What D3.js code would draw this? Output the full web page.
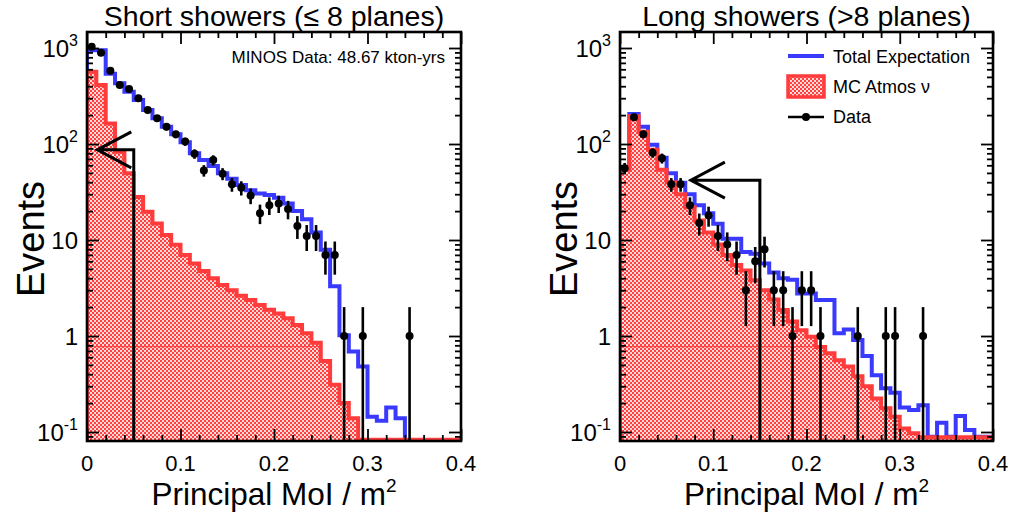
<!DOCTYPE html>
<html>
<head>
<meta charset="utf-8">
<script src="https://cdn.jsdelivr.net/npm/d3@7"></script>
<style>
  body { margin: 0; background: #fff; }
  text { font-family: "Liberation Sans", Arial, Helvetica, sans-serif; fill: #000; }
</style>
</head>
<body>
<svg id="chart" width="1016" height="522"></svg>
<script>
// histogram binning: 40 bins of 0.01 from 0 to 0.4
const nBins = 40;
const binWidth = 0.01;
const xMax = 0.4;

// short showers (<= 8 planes)
const shortTotal = [950, 950, 540, 430, 350, 288, 226, 185, 151, 126,
                    104, 80, 68, 59, 49.5, 43.5, 37.5, 33, 30.5, 29.4,
                    27.5, 24, 20, 16.5, 12, 7.9, 3.3, 1.02, 0.69, 0.48,
                    0.144, 0.131, 0.18, 0.139, 0.05, 0.05, 0.05, 0.05, 0.05, 0.05];
const shortMC = [566, 412, 164, 83, 49.5, 28, 19.7, 14.9, 11.3, 8.9,
                 7, 5.7, 4.75, 4.0, 3.4, 3.0, 2.63, 2.37, 2.1, 1.88,
                 1.72, 1.53, 1.3, 1.07, 0.85, 0.55, 0.31, 0.2, 0.139, 0.083,
                 0.083, 0.083, 0.083, 0.083, 0.083, 0.083, 0.083, 0.083, 0.083, 0.083];
const shortData = [1031, 894, 580, 412, 374, 299, 226, 185, 151, 126,
                   106, 79, 53, 68, 49, 38, 35, 29, 19, 23,
                   24, 21, 14, 11, 11, 7, 7, 1, 0, 1,
                   0, 0, 0, 0, 1, 0, 0, 0, 0, 0];

// long showers (> 8 planes)
const longTotal = [55, 205, 151, 98, 72, 49.5, 39.5, 30, 23, 19,
                   14.8, 10.3, 10.3, 7.5, 7.2, 5.7, 4.6, 4.0, 3.85, 2.78,
                   2.78, 2.37, 2.37, 1.07, 1.17, 0.91, 0.62, 0.39, 0.285, 0.257,
                   0.18, 0.17, 0.19, 0.089, 0.125, 0.089, 0.147, 0.105, 0.089, 0.089];
const longMC = [54, 195, 134, 87, 54, 40, 30, 22, 16, 12,
                9, 7, 5.5, 4.8, 3.8, 3.0, 2.4, 1.87, 1.42, 1.15,
                0.98, 0.77, 0.66, 0.56, 0.48, 0.38, 0.3, 0.224, 0.177, 0.144,
                0.109, 0.097, 0.088, 0.088, 0.088, 0.088, 0.088, 0.088, 0.088, 0.088];
const longData = [56, 190, 126, 81, 71, 38, 38, 23, 15, 18,
                  11, 9, 7, 3, 6, 8, 3, 3, 1, 3,
                  3, 1, 0, 0, 0, 1, 0, 0, 1, 1,
                  0, 0, 1, 0, 0, 0, 0, 0, 0, 0];

const xTickValues = [0, 0.1, 0.2, 0.3, 0.4];
const xTickLabels = ["0", "0.1", "0.2", "0.3", "0.4"];
const yTickValues = [0.1, 1, 10, 100, 1000];
const yTickBase = ["10", "1", "10", "10", "10"];
const yTickExp = ["-1", "", "", "2", "3"];

const panelTitles = ["Short showers (\u2264 8 planes)", "Long showers (>8 planes)"];
const cutValues = [0.05, 0.15];      // cut position (arrow stem)
const cutArrowY = [87, 42];          // arrow height (events)
const cutArrowTip = [0.011, 0.076];  // arrow tip position
const mcLineLevel = 0.775;           // faint line in the MC fill
const legendLabels = ["Total Expectation", "MC Atmos \u03bd", "Data"];
const exposureLabel = "MINOS Data: 48.67 kton-yrs";

const blue = "#3a3aff";
const red = "#ff3b3b";

const svg = d3.select("#chart");
const defs = svg.append("defs");

const pat = defs.append("pattern")
  .attr("id", "checker")
  .attr("width", 4).attr("height", 4)
  .attr("patternUnits", "userSpaceOnUse");
pat.append("rect").attr("width", 4).attr("height", 4).attr("fill", "#ffd8d8");
pat.append("rect").attr("width", 2).attr("height", 2).attr("fill", "#ff4040");
pat.append("rect").attr("x", 2).attr("y", 2).attr("width", 2).attr("height", 2).attr("fill", "#ff4040");

const frameTop = 32, frameBottom = 441;

function stepPoints(vals) {
  const pts = [[0, 1e-6]];
  vals.forEach((v, i) => pts.push([i * binWidth, v]));
  pts.push([xMax, vals[vals.length - 1]]);
  pts.push([xMax, 1e-6]);
  return pts;
}

function drawPanel(idx, left, right, total, mc, data) {
  const g = svg.append("g");
  const x = d3.scaleLinear().domain([0, xMax]).range([left, right]);
  const y = d3.scaleLog().domain([0.0806, 1468]).range([frameBottom, frameTop]).clamp(true);
  const yv = v => y(Math.max(v, 1e-6));

  defs.append("clipPath").attr("id", "frame" + idx)
    .append("rect")
    .attr("x", left).attr("y", frameTop)
    .attr("width", right - left).attr("height", frameBottom - frameTop);

  const plot = g.append("g").attr("clip-path", `url(#frame${idx})`);

  const line = d3.line().x(d => x(d[0])).y(d => yv(d[1])).curve(d3.curveStepAfter);
  const area = d3.area().x(d => x(d[0])).y0(frameBottom).y1(d => yv(d[1])).curve(d3.curveStepAfter);

  // total expectation
  plot.append("path")
    .attr("d", line(stepPoints(total)))
    .attr("fill", "none").attr("stroke", blue).attr("stroke-width", 4);

  // MC fill
  const mcPts = stepPoints(mc);
  defs.append("clipPath").attr("id", "mcclip" + idx)
    .append("path").attr("d", area(mcPts));
  plot.append("path")
    .attr("d", area(mcPts))
    .attr("fill", "url(#checker)");
  plot.append("line")
    .attr("clip-path", `url(#mcclip${idx})`)
    .attr("x1", left).attr("x2", right)
    .attr("y1", y(mcLineLevel)).attr("y2", y(mcLineLevel))
    .attr("stroke", red).attr("stroke-width", 1);
  plot.append("path")
    .attr("d", line(mcPts))
    .attr("fill", "none").attr("stroke", red).attr("stroke-width", 4);

  // cut arrow
  const ax = x(cutValues[idx]), ay = y(cutArrowY[idx]), tip = x(cutArrowTip[idx]);
  plot.append("path")
    .attr("d", `M${ax},${frameBottom} V${ay} H${tip} M${tip + 34},${ay - 18} L${tip},${ay} L${tip + 34},${ay + 18}`)
    .attr("fill", "none").attr("stroke", "#000").attr("stroke-width", 3);

  // data points with sqrt(N) errors
  const pts = data.map((n, i) => ({ x: (i + 0.5) * binWidth, n })).filter(d => d.n > 0);
  plot.selectAll(".err").data(pts).enter().append("line")
    .attr("x1", d => x(d.x)).attr("x2", d => x(d.x))
    .attr("y1", d => yv(d.n + Math.sqrt(d.n)))
    .attr("y2", d => yv(d.n - Math.sqrt(d.n)))
    .attr("stroke", "#000").attr("stroke-width", 2.6);
  plot.selectAll(".pt").data(pts).enter().append("circle")
    .attr("cx", d => x(d.x)).attr("cy", d => y(d.n))
    .attr("r", 4).attr("fill", "#000");

  // ticks on all sides
  const yMinor = [];
  [0.01, 0.1, 1, 10, 100, 1000].forEach(dec => {
    for (let k = 2; k <= 9; k++) {
      const v = dec * k;
      if (v > 0.0806 && v < 1468) yMinor.push(v);
    }
  });
  const xMinor = d3.range(0, 0.4001, 0.02).filter(v => Math.abs(v * 10 - Math.round(v * 10)) > 1e-6);

  const axes = [
    [d3.axisLeft(y).tickValues(yTickValues).tickSize(-12), `translate(${left},0)`],
    [d3.axisLeft(y).tickValues(yMinor).tickSize(-6), `translate(${left},0)`],
    [d3.axisRight(y).tickValues(yTickValues).tickSize(-12), `translate(${right},0)`],
    [d3.axisRight(y).tickValues(yMinor).tickSize(-6), `translate(${right},0)`],
    [d3.axisBottom(x).tickValues(xTickValues).tickSize(-12), `translate(0,${frameBottom})`],
    [d3.axisBottom(x).tickValues(xMinor).tickSize(-6), `translate(0,${frameBottom})`],
    [d3.axisTop(x).tickValues(xTickValues).tickSize(-12), `translate(0,${frameTop})`],
    [d3.axisTop(x).tickValues(xMinor).tickSize(-6), `translate(0,${frameTop})`]
  ];
  axes.forEach(([ax2, tr]) => {
    const a = g.append("g").attr("transform", tr).call(ax2.tickFormat(""));
    a.select(".domain").remove();
    a.selectAll(".tick line").attr("stroke", "#000").attr("stroke-width", 1.8);
  });

  g.append("rect")
    .attr("x", left).attr("y", frameTop)
    .attr("width", right - left).attr("height", frameBottom - frameTop)
    .attr("fill", "none").attr("stroke", "#000").attr("stroke-width", 2.6);

  // tick labels
  xTickValues.forEach((v, i) => {
    g.append("text").attr("x", x(v)).attr("y", 471)
      .attr("text-anchor", "middle").attr("font-size", 22).text(xTickLabels[i]);
  });
  yTickValues.forEach((v, i) => {
    const t = g.append("text").attr("x", left - 9).attr("y", y(v) + 9)
      .attr("text-anchor", "end").attr("font-size", 24);
    t.append("tspan").text(yTickBase[i]);
    if (yTickExp[i]) t.append("tspan").attr("dy", -11).attr("font-size", 16).text(yTickExp[i]);
  });

  // titles
  g.append("text").attr("x", (left + right) / 2).attr("y", 26)
    .attr("text-anchor", "middle").attr("font-size", 28.5).text(panelTitles[idx]);
  const xl = g.append("text").attr("x", (left + right) / 2).attr("y", 505)
    .attr("text-anchor", "middle").attr("font-size", 31.5);
  xl.append("tspan").text("Principal MoI / m");
  xl.append("tspan").attr("dy", -13).attr("font-size", 19).text("2");
  g.append("text")
    .attr("transform", `translate(${left - 43},239) rotate(-90)`)
    .attr("text-anchor", "middle").attr("font-size", 38).text("Events");

  return { g, x, y };
}

const p1 = drawPanel(0, 87, 461, shortTotal, shortMC, shortData);
const p2 = drawPanel(1, 620, 993, longTotal, longMC, longData);

p1.g.append("text").attr("x", 445).attr("y", 63)
  .attr("text-anchor", "end").attr("font-size", 17).text(exposureLabel);

// legend
const lg = p2.g.append("g");
const lx0 = 788, lx1 = 824, ltx = 833;
lg.append("line").attr("x1", lx0).attr("x2", lx1).attr("y1", 56).attr("y2", 56)
  .attr("stroke", blue).attr("stroke-width", 4);
lg.append("rect").attr("x", lx0).attr("y", 76).attr("width", lx1 - lx0).attr("height", 21)
  .attr("fill", "url(#checker)").attr("stroke", red).attr("stroke-width", 3.5);
lg.append("line").attr("x1", lx0).attr("x2", lx1).attr("y1", 117).attr("y2", 117)
  .attr("stroke", "#000").attr("stroke-width", 2.6);
lg.append("circle").attr("cx", (lx0 + lx1) / 2).attr("cy", 117).attr("r", 4).attr("fill", "#000");
[63, 93, 123].forEach((yy, i) => {
  lg.append("text").attr("x", ltx).attr("y", yy).attr("font-size", 18).text(legendLabels[i]);
});
</script>
</body>
</html>
